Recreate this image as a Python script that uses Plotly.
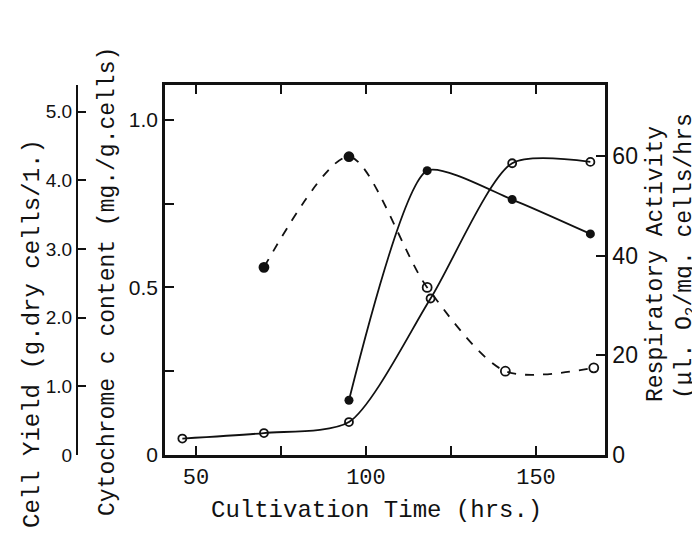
import plotly.graph_objects as go

# ---- data ----
cyt_time = [70, 95, 118, 141, 167]
cyt_content = [0.56, 0.89, 0.50, 0.25, 0.26]
cyt_symbols = ["circle", "circle", "circle-open", "circle-open", "circle-open"]

yield_time = [46, 70, 95, 119, 143, 166]
cell_yield = [0.24, 0.32, 0.48, 2.28, 4.25, 4.27]

resp_time = [95, 118, 143, 166]
resp_activity = [11.0, 57.1, 51.3, 44.4]

x_tickvals = [50, 100, 150]
x_minor = [75, 125]
cyt_tickvals = [0, 0.5, 1.0]
cyt_ticktext = ["0", "0.5", "1.0"]
cyt_minor = [0.25, 0.75]
yield_tickvals = [0, 1, 2, 3, 4, 5]
yield_ticktext = ["0", "1.0", "2.0", "3.0", "4.0", "5.0"]
resp_tickvals = [0, 20, 40, 60]

W, H = 700, 549
FONT = "Liberation Mono"
INK = "#111111"

fig = go.Figure()

fig.add_trace(go.Scatter(
    x=cyt_time, y=cyt_content, mode="lines+markers", yaxis="y",
    line=dict(color=INK, width=1.8, dash="dash", shape="spline", smoothing=0.8),
    marker=dict(symbol=cyt_symbols, size=9, color=INK, line=dict(color=INK, width=1.8)),
    showlegend=False))

fig.add_trace(go.Scatter(
    x=yield_time, y=cell_yield, mode="lines+markers", yaxis="y2",
    line=dict(color=INK, width=1.8, shape="spline", smoothing=0.7),
    marker=dict(symbol="circle-open", size=8, color=INK, line=dict(color=INK, width=1.8)),
    showlegend=False))

fig.add_trace(go.Scatter(
    x=resp_time, y=resp_activity, mode="lines+markers", yaxis="y3",
    line=dict(color=INK, width=1.8, shape="spline", smoothing=0.6),
    marker=dict(symbol="circle", size=9, color=INK),
    showlegend=False))

x0, x1 = 157 / W, 597 / W
y0, y1 = 1 - 447 / H, 1 - 77 / H

fig.update_layout(
    width=W, height=H,
    margin=dict(l=0, r=0, t=0, b=0),
    paper_bgcolor="white", plot_bgcolor="white",
    font=dict(family=FONT, color=INK),
    xaxis=dict(domain=[x0, x1], range=[40.9, 170.3], showline=True, linewidth=2.5,
               linecolor=INK, mirror="ticks", ticks="inside", ticklen=9, tickwidth=1.5,
               tickcolor=INK, tickvals=x_tickvals,
               minor=dict(tickvals=x_minor, ticks="inside", ticklen=9, tickwidth=1.5,
                          tickcolor=INK),
               tickfont=dict(size=22, family=FONT), showgrid=False, zeroline=False,
               automargin=False),
    yaxis=dict(domain=[y0, y1], range=[0, 1.104], showline=True, linewidth=2.5,
               linecolor=INK, ticks="inside", ticklen=9, tickwidth=1.5, tickcolor=INK,
               tickvals=cyt_tickvals, ticktext=cyt_ticktext,
               minor=dict(tickvals=cyt_minor, ticks="inside", ticklen=9, tickwidth=1.5,
                          tickcolor=INK),
               tickfont=dict(size=21, family="Liberation Sans"), showgrid=False,
               zeroline=False, automargin=False),
    yaxis2=dict(overlaying="y", anchor="free", position=69 / W, side="left",
                range=[0, 5.39], showline=True, linewidth=2, linecolor=INK,
                ticks="inside", ticklen=8, tickwidth=1.5, tickcolor=INK,
                tickvals=yield_tickvals, ticktext=yield_ticktext,
                tickfont=dict(size=19, family="Liberation Sans"), showgrid=False,
                zeroline=False, automargin=False),
    yaxis3=dict(overlaying="y", anchor="x", side="right", range=[0, 74.3],
                showline=True, linewidth=2.5, linecolor=INK, ticks="inside",
                ticklen=9, tickwidth=1.5, tickcolor=INK, tickvals=resp_tickvals,
                tickfont=dict(size=23, family="Liberation Sans"), showgrid=False,
                zeroline=False, automargin=False),
)

def ann(text, px, py, angle=0, size=24):
    fig.add_annotation(text=text, x=px / W, y=1 - py / H, xref="paper", yref="paper",
                       showarrow=False, textangle=angle, xanchor="center",
                       yanchor="middle", font=dict(family=FONT, size=size, color=INK))

ann("Cultivation Time (hrs.)", 368, 502)
ann("Cell Yield (g.dry cells/1.)", 24, 326, -90)
ann("Cytochrome c content (mg./g.cells)", 100, 274, -90, 23)
ann("Respiratory Activity", 648, 256, -90, 23)
ann("(\u03bcl. O<sub>2</sub>/mg. cells/hrs", 678, 248, -90, 23)

fig.write_html("out.html")
